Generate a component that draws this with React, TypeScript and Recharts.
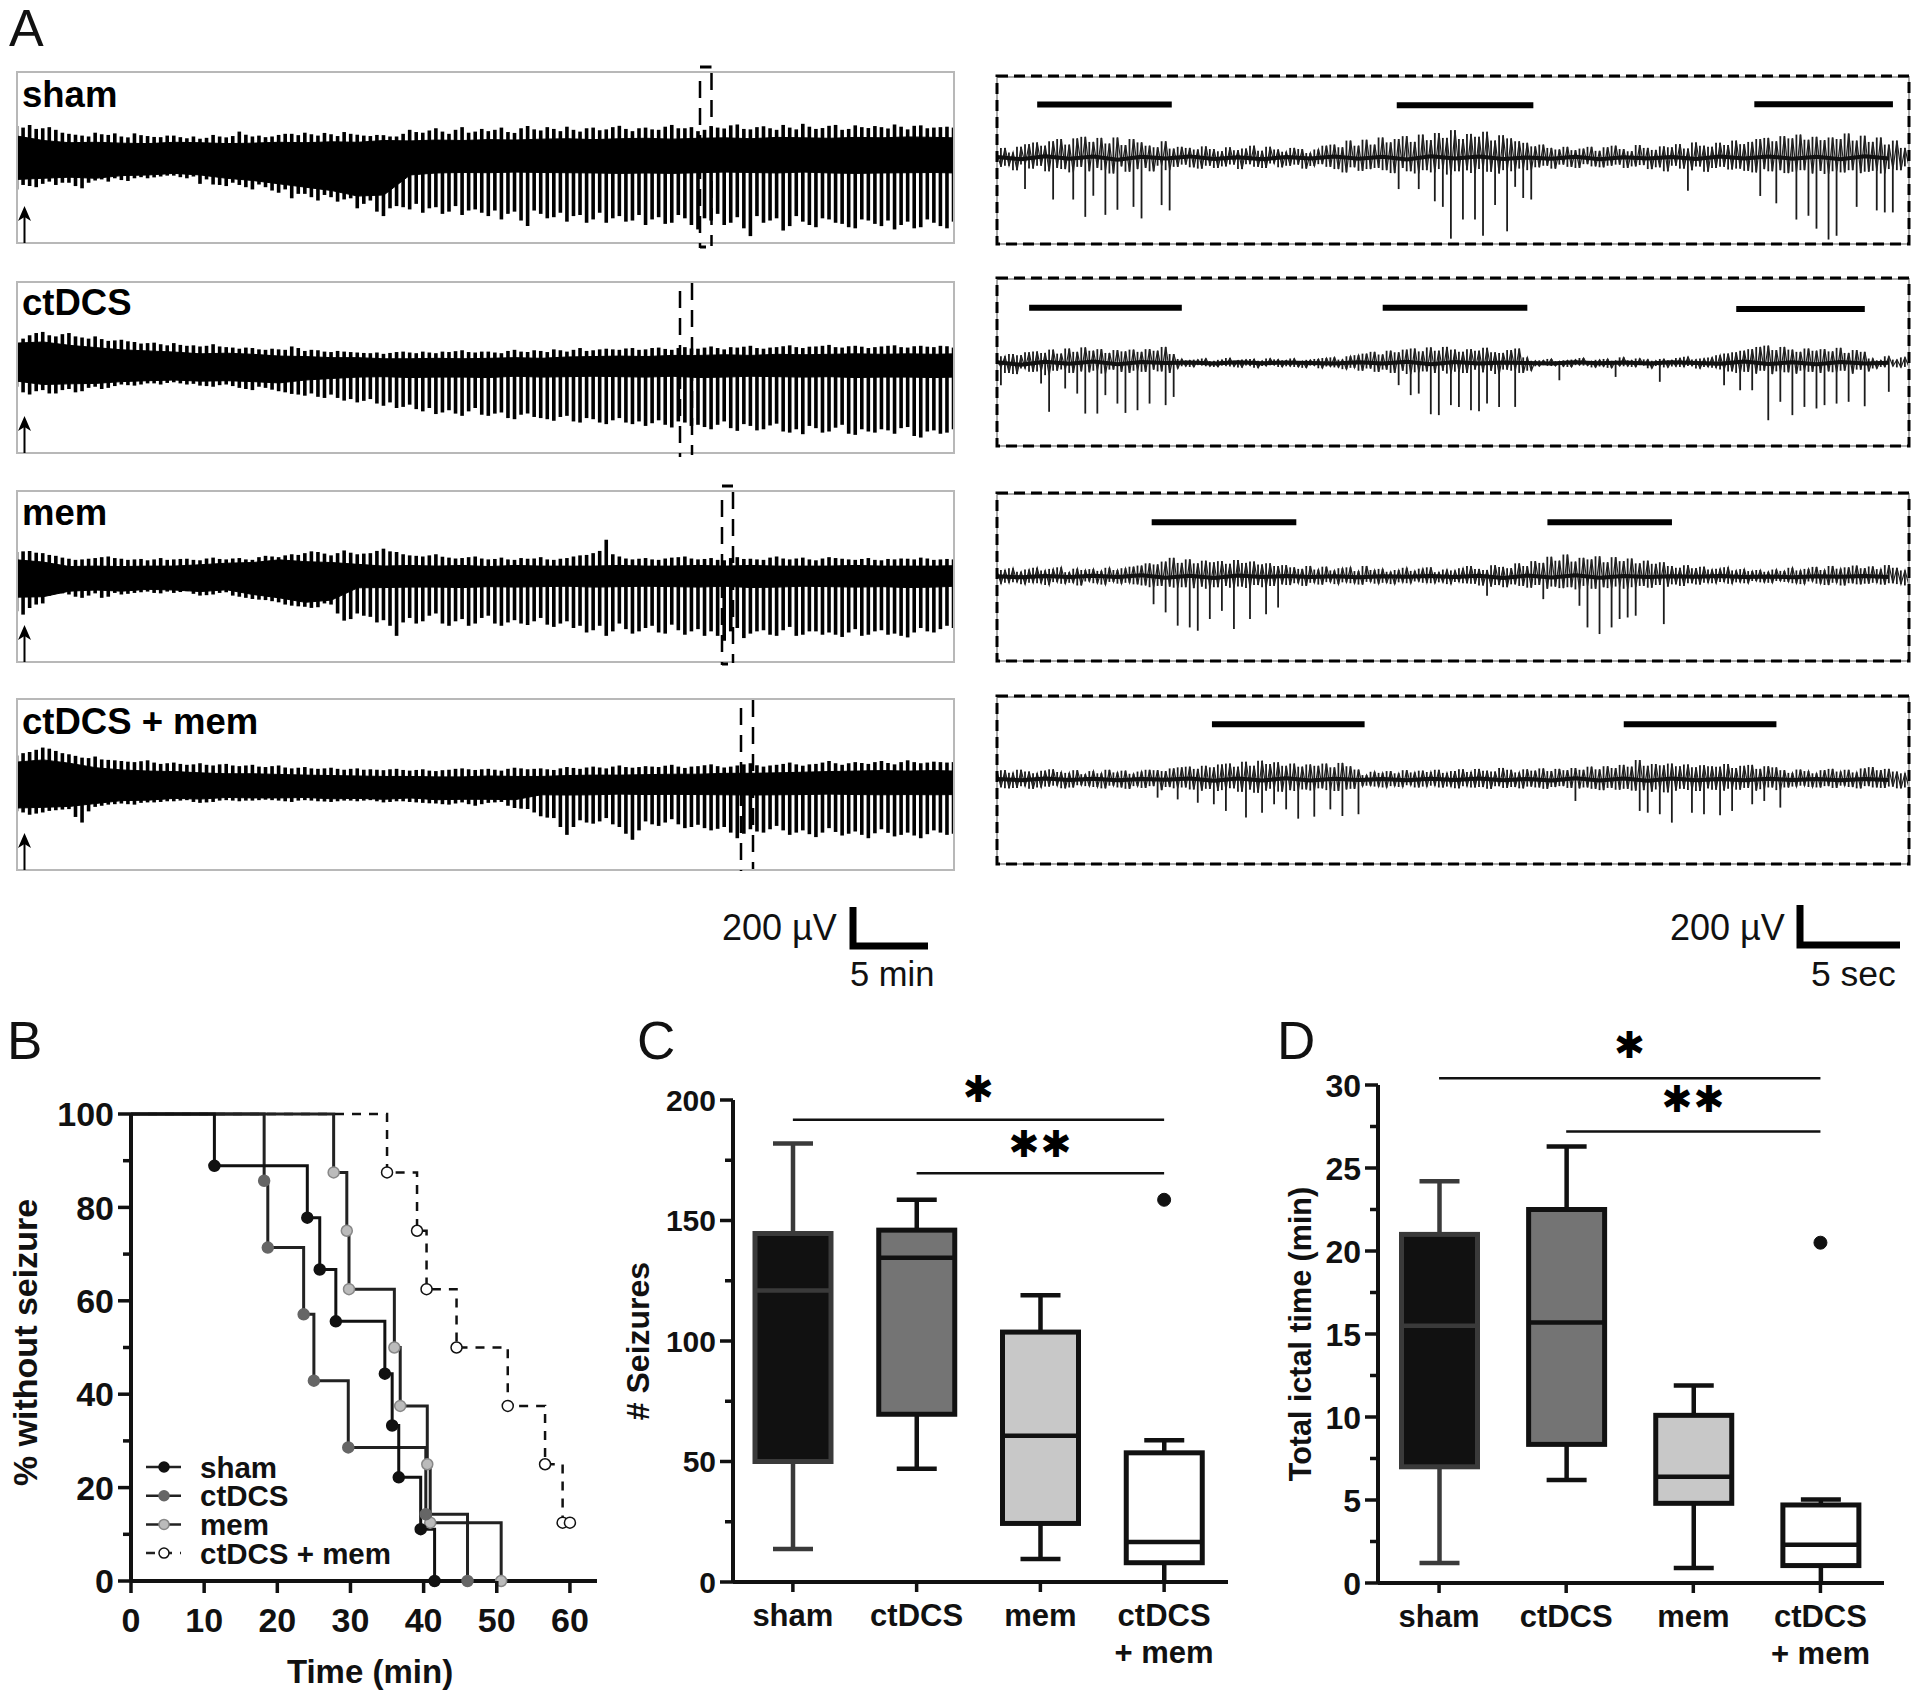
import React from 'react';
import { ComposedChart, LineChart, Line, Area, Bar, XAxis, YAxis, ReferenceLine, Legend } from 'recharts';

const FONT = '"Liberation Sans", Arial, sans-serif';

// Panel A, overview traces in microvolts. Two interleaved sets of cycles: upper tips, lower tips.
const shamTop = [135,140,125,118,100,92,105,95,88,102,90,85,92,80,78,95,84,110,88,85,95,100,105,92,98,108,96,90,94,88,118,105,125,100,130,110,112,128,104,135,115,122,132,110,128,120,136,112,128,118,140,125,112,135,124,142,120,134,118,128,145,122,136,118,138,126,130,142,120,138,128,132];
const shamTopB = [128,122,130,105,96,88,98,102,84,94,86,92,85,88,82,88,90,96,92,88,100,94,98,104,90,100,92,95,88,100,108,115,110,118,105,122,118,108,125,120,130,112,118,125,116,130,122,125,120,132,125,130,118,128,138,122,130,125,140,120,132,126,140,122,130,135,124,132,136,125,130,128];
const shamCore = [-105,-110,-100,-105,-95,-92,-100,-90,-88,-82,-85,-80,-78,-82,-85,-95,-100,-105,-110,-118,-125,-130,-140,-148,-155,-165,-180,-190,-175,-120,-85,-78,-76,-75,-74,-76,-75,-78,-72,-76,-74,-78,-75,-72,-76,-74,-78,-75,-76,-72,-78,-74,-75,-76,-72,-78,-74,-75,-76,-78,-72,-74,-76,-75,-78,-72,-76,-74,-75,-78,-74,-76];
const shamCoreTop = [90,70,60,62,58,56,62,60,56,58,62,60,64,62,70,68,72,70,74,72,76,78,74,78,80,76,80,82,78,84,82,80,84,82,86,84,82];
const shamSpikes = [-150,-135,-125,-130,-120,-145,-110,-115,-108,-100,-100,-92,-88,-100,-125,-128,-135,-130,-150,-140,-165,-190,-170,-200,-185,-195,-235,-200,-270,-225,-240,-255,-230,-250,-265,-240,-270,-285,-250,-315,-260,-275,-295,-265,-285,-300,-270,-290,-310,-275,-300,-280,-330,-290,-310,-275,-360,-300,-280,-315,-295,-320,-285,-305,-325,-290,-315,-330,-295,-320,-300,-325];
const shamSpikesB = [-130,-140,-115,-120,-135,-120,-105,-100,-112,-95,-96,-88,-95,-92,-105,-130,-120,-140,-128,-155,-150,-170,-185,-175,-205,-190,-215,-250,-235,-230,-215,-235,-260,-225,-245,-255,-245,-260,-290,-245,-280,-255,-270,-300,-255,-280,-295,-265,-285,-305,-265,-310,-280,-260,-300,-325,-270,-290,-335,-270,-310,-280,-300,-320,-285,-305,-290,-310,-325,-285,-315,-295];

const ctdcsTop = [90,135,150,130,145,125,130,110,115,105,100,95,100,88,85,95,82,75,78,70,72,85,65,68,60,62,58,55,52,60,58,62,55,60,68,58,62,55,70,60,65,72,62,78,68,75,70,78,72,80,70,82,75,85,72,80,88,75,82,90,78,85,92,80,88,78,85,90,80,88,82,86];
const ctdcsTopB = [120,145,135,140,130,120,118,112,108,98,102,90,92,90,88,85,80,80,72,75,70,78,70,62,65,60,56,58,56,62,55,58,62,64,60,62,58,65,62,68,60,68,70,65,72,72,76,70,78,74,78,76,80,78,82,84,78,80,86,82,84,88,82,86,84,82,88,82,86,84,88,80];
const ctdcsCore = [-70,-82,-85,-88,-82,-85,-80,-78,-72,-70,-68,-66,-65,-68,-70,-72,-68,-70,-72,-75,-78,-72,-65,-60,-58,-55,-52,-52,-50,-52,-54,-50,-52,-48,-52,-50,-54,-52,-48,-50,-52,-54,-50,-52,-48,-52,-50,-54,-52,-50,-48,-52,-54,-50,-52,-50,-48,-52,-50,-54,-52,-48,-50,-52,-54,-50,-52,-48,-52,-50,-54,-52];
const ctdcsCoreTop = [100,105,90,80,70,65,60,52,55,50,42,40,35,35,30,30,32,30,32,35,32,38,40,42,40,45,45,48,45,50,48,50,52,50,52,50,52];
const ctdcsSpikes = [-95,-130,-110,-125,-105,-115,-95,-100,-85,-90,-80,-85,-75,-85,-90,-95,-85,-100,-110,-100,-115,-127,-135,-140,-130,-157,-165,-150,-180,-190,-175,-205,-217,-200,-225,-190,-225,-210,-240,-215,-235,-247,-225,-255,-240,-262,-235,-262,-270,-245,-277,-255,-265,-285,-250,-292,-270,-285,-260,-300,-307,-280,-295,-265,-310,-295,-285,-305,-275,-322,-290,-300];
const ctdcsSpikesB = [-120,-115,-125,-110,-120,-100,-105,-92,-88,-85,-80,-78,-80,-82,-92,-88,-92,-105,-95,-108,-120,-130,-125,-145,-145,-150,-158,-170,-165,-185,-195,-190,-210,-215,-205,-220,-215,-235,-220,-230,-240,-230,-250,-235,-255,-245,-255,-250,-258,-265,-250,-270,-275,-265,-280,-262,-290,-268,-295,-285,-270,-300,-278,-305,-285,-300,-290,-280,-315,-295,-305,-285];

const memTop = [105,110,100,88,75,72,78,85,75,72,68,78,72,75,68,80,72,78,70,88,82,95,100,105,90,112,95,100,120,105,90,85,95,80,78,85,72,80,70,75,82,70,78,90,100,160,85,72,78,70,80,85,72,78,68,82,75,70,85,72,80,68,82,75,70,78,68,72,75,80,70,74];
const memTopB = [108,102,92,80,70,75,82,78,70,74,72,70,74,70,76,74,76,72,82,85,90,92,108,98,100,102,98,110,108,95,88,90,84,76,82,76,74,72,78,76,72,75,85,92,110,95,76,75,72,76,82,76,74,70,78,74,72,80,76,76,72,76,78,72,74,70,74,76,72,76,72,72];
const memCore = [-97,-100,-95,-62,-70,-72,-65,-85,-70,-65,-62,-68,-65,-62,-72,-68,-64,-78,-85,-90,-100,-112,-120,-128,-110,-60,-55,-52,-54,-50,-52,-48,-52,-50,-54,-52,-50,-48,-52,-54,-50,-52,-48,-50,-52,-54,-50,-52,-48,-52,-50,-54,-52,-50,-48,-52,-54,-50,-52,-50,-48,-52,-50,-54,-52,-48,-50,-52,-54,-50,-52,-48];
const memCoreTop = [70,60,40,42,40,42,42,48,55,58,70,62,58,50,42,45,42,45,40,45,42,42,42,45,42,42,45,42,45,42,42,42,45,42,42,42,44];
const memSpikes = [-160,-145,-125,-70,-85,-100,-80,-95,-85,-78,-72,-80,-78,-70,-90,-85,-75,-95,-105,-110,-120,-135,-140,-142,-130,-202,-170,-185,-200,-270,-190,-205,-170,-225,-195,-215,-180,-225,-200,-222,-190,-230,-205,-225,-245,-270,-215,-260,-235,-255,-220,-265,-240,-250,-292,-235,-260,-245,-270,-230,-265,-250,-255,-275,-240,-265,-245,-260,-277,-235,-255,-225];
const memSpikesB = [-175,-130,-90,-80,-95,-90,-100,-78,-82,-75,-78,-72,-74,-82,-88,-78,-90,-100,-108,-115,-130,-138,-145,-125,-170,-195,-180,-210,-225,-210,-215,-180,-215,-205,-225,-190,-215,-210,-215,-205,-220,-215,-235,-255,-225,-250,-240,-250,-225,-260,-245,-250,-270,-270,-250,-280,-250,-265,-245,-270,-250,-265,-265,-255,-270,-250,-265,-270,-255,-250,-240,-235];

const comboTop = [130,145,165,150,135,120,125,110,105,100,108,92,98,88,95,85,92,82,88,78,85,72,78,70,75,66,72,68,64,70,62,68,60,66,72,65,70,62,75,68,72,65,78,70,80,72,85,75,82,78,88,74,82,90,76,85,95,80,88,98,84,92,105,88,100,92,105,90,108,95,102,98];
const comboTopB = [140,155,160,140,128,118,112,108,102,104,98,95,92,90,88,90,85,85,80,82,76,75,72,72,70,70,66,66,68,65,65,62,64,70,68,68,66,70,72,70,68,72,74,76,76,80,78,78,80,84,80,80,86,82,80,90,86,85,92,90,90,98,95,95,96,100,96,100,100,98,100,100];
const comboCore = [-105,-110,-102,-100,-98,-92,-85,-75,-72,-68,-70,-65,-62,-60,-65,-60,-58,-62,-60,-56,-60,-62,-58,-60,-64,-60,-62,-58,-66,-62,-60,-65,-68,-62,-66,-70,-66,-62,-68,-64,-46,-45,-47,-44,-46,-45,-43,-46,-45,-47,-44,-46,-45,-43,-46,-44,-47,-45,-46,-44,-45,-47,-43,-46,-45,-44,-46,-47,-45,-44,-46,-45];
const comboCoreTop = [100,110,95,75,65,60,58,52,48,48,45,42,40,38,36,36,34,34,38,36,36,40,42,42,44,46,46,50,50,52,55,58,60,62,60,62,60];
const comboSpikes = [-120,-135,-125,-115,-110,-170,-100,-90,-85,-90,-80,-78,-75,-70,-82,-78,-70,-75,-72,-68,-72,-78,-70,-75,-78,-72,-75,-70,-80,-75,-78,-82,-85,-90,-80,-95,-82,-78,-105,-110,-142,-150,-225,-160,-175,-150,-190,-247,-165,-185,-155,-195,-180,-205,-190,-240,-200,-215,-185,-225,-205,-235,-195,-228,-210,-240,-200,-232,-215,-240,-205,-225];
const comboSpikesB = [-125,-130,-118,-112,-145,-120,-95,-88,-88,-82,-80,-75,-72,-78,-80,-72,-72,-72,-70,-70,-75,-72,-72,-76,-75,-72,-72,-75,-78,-75,-80,-84,-88,-85,-88,-88,-80,-95,-108,-125,-148,-190,-190,-170,-165,-178,-220,-205,-178,-170,-178,-190,-195,-198,-215,-220,-210,-200,-205,-215,-222,-215,-212,-220,-225,-218,-216,-225,-228,-222,-215,-220];

// Panel A, expanded traces: background activity, slow centre line, then the deep spikes (sample index, depth)
const shamNoise = [20,-40,45,-35,25,-55,50,-30,62,-48,70,-35,55,-60,75,-45,85,-50,60,-65,88,-40,95,-60,72,-45,90,-55,65,-70,92,-38,58,-62,85,-50,70,-45,55,-60,48,-35,75,-55,42,-40,50,-30,45,-42,38,-48,52,-35,40,-45,30,-38,48,-30,35,-50,42,-28,55,-40,32,-45,50,-25,38,-42,28,-35,45,-30,40,-48,22,-36,38,-28,55,-40,60,-50,48,-65,78,-42,55,-58,82,-50,60,-45,92,-55,70,-68,85,-45,98,-60,72,-70,105,-55,80,-65,112,-50,90,-75,125,-60,85,-55,108,-68,95,-50,118,-62,78,-70,102,-55,88,-60,75,-48,68,-55,52,-42,60,-35,45,-48,38,-30,50,-40,35,-45,42,-28,50,-38,32,-42,48,-35,55,-30,40,-45,30,-38,58,-32,45,-50,36,-42,52,-60,48,-35,62,-48,42,-55,70,-38,55,-62,50,-45,68,-40,58,-52,78,-48,62,-58,72,-65,85,-50,90,-60,75,-55,98,-68,88,-62,105,-55,82,-70,95,-58,80,-72,92,-60,85,-65,110,-55,78,-68,100,-62,72,-58,92,-70,60,-50,78,-55,45,-38];
const shamCentre = [4,-6,8,-4,6,-8,5,-3,7,-5,3,-6,4,-2,6,-4,5,-7,8,-3,6,-5,2,-4,5,-6,3,-2,4,-5,6,-3,7,-4,5,-6,8,-2];
const shamSpikeAt = [7,14,19,22,24,27,30,34,36,41,43,100,105,109,111,113,116,119,121,124,127,129,131,133,172,190,194,199,202,204,207,209,214,219,221,223];
const shamSpikeDepth = [-140,-187,-187,-265,-170,-256,-233,-220,-272,-212,-236,-140,-140,-195,-220,-363,-277,-277,-350,-212,-330,-130,-180,-187,-147,-171,-204,-277,-260,-318,-367,-350,-220,-236,-245,-245];

const ctdcsNoise = [15,-20,30,-45,40,-50,35,-25,48,-40,52,-38,45,-55,60,-35,42,-30,65,-45,50,-38,70,-42,55,-35,62,-48,45,-30,58,-40,52,-45,60,-35,50,-40,62,-30,55,-38,72,-45,40,-25,18,-15,12,-18,15,-10,20,-15,8,-18,14,-12,22,-16,10,-20,15,-12,18,-22,10,-14,20,-10,16,-18,12,-15,20,-18,8,-22,14,-12,18,-24,22,-16,25,-20,15,-28,30,-22,35,-35,42,-25,50,-40,38,-30,55,-45,48,-35,60,-50,65,-42,52,-38,70,-45,55,-35,72,-48,60,-40,50,-45,62,-30,55,-42,68,-35,48,-50,45,-30,58,-35,65,-45,25,-35,10,-15,12,-10,18,-14,8,-16,12,-18,15,-10,22,-12,8,-20,14,-16,18,-22,10,-14,25,-15,12,-18,20,-10,16,-24,10,-14,18,-20,12,-16,22,-18,28,-14,15,-25,20,-18,25,-22,35,-30,42,-38,48,-45,55,-40,62,-48,72,-35,78,-50,58,-38,72,-42,60,-48,50,-35,65,-40,55,-45,62,-38,52,-42,68,-35,45,-48,58,-30,50,-38,20,-25,12,-18,30,-15,15,-20,25,-18];
const ctdcsCentre = [3,-8,5,-4,6,-6,4,0,2,-2,3,-1,2,0,-3,3,-2,5,-6,4,-3,2,0,-2,3,-1,2,-2,3,0,-4,6,-5,3,-6,4,-2,1];
const ctdcsSpikeAt = [1,11,13,17,20,22,25,27,30,32,35,38,42,44,100,103,105,108,110,113,115,118,120,122,125,129,140,154,165,181,185,188,192,195,198,201,204,206,209,212,216,222];
const ctdcsSpikeDepth = [-100,-93,-220,-115,-138,-228,-228,-145,-183,-225,-213,-183,-190,-153,-100,-145,-138,-231,-235,-190,-198,-213,-217,-183,-198,-198,-78,-63,-85,-100,-123,-123,-258,-175,-235,-198,-205,-190,-183,-175,-195,-130];

const memNoise = [25,-32,30,-28,38,-25,22,-35,32,-28,40,-30,28,-38,35,-25,42,-32,20,-28,36,-40,30,-22,34,-30,26,-36,40,-24,30,-32,38,-28,45,-35,50,-40,60,-48,55,-42,68,-45,85,-50,62,-48,78,-52,60,-45,72,-55,65,-48,70,-42,58,-50,75,-45,62,-52,68,-38,55,-48,60,-42,48,-35,52,-38,42,-30,35,-42,48,-28,32,-36,45,-25,28,-34,38,-26,42,-30,25,-36,48,-24,30,-32,35,-28,22,-34,30,-26,40,-30,26,-22,36,-28,42,-30,20,-26,32,-34,28,-24,38,-30,48,-32,35,-40,30,-45,52,-38,44,-48,38,-35,60,-42,48,-50,70,-38,62,-55,90,-45,72,-52,100,-48,68,-58,85,-42,78,-55,92,-48,65,-52,88,-45,70,-55,82,-48,60,-42,72,-50,58,-38,65,-45,48,-35,40,-42,52,-30,38,-36,45,-28,32,-30,36,-24,42,-32,28,-26,34,-30,25,-20,30,-26,22,-28,32,-20,26,-24,40,-30,28,-34,35,-22,44,-32,30,-38,48,-28,36,-40,42,-30,50,-35,38,-32,46,-28,34,-36,52,-30,40,-34,28,-40];
const memCentre = [2,-3,3,-2,4,-2,6,-5,4,-6,5,-2,3,-2,2,-3,2,-1,3,-2,4,-6,5,-4,6,-5,3,-2,2,-1,3,-2,1,-3,2,-1,3,-2];
const memSpikeAt = [39,42,45,48,50,53,56,59,63,67,70,122,136,145,147,150,153,155,157,159,166];
const memSpikeDepth = [-125,-162,-222,-230,-245,-192,-155,-237,-192,-170,-140,-87,-102,-132,-230,-260,-230,-192,-185,-177,-215];

const comboNoise = [38,-35,42,-40,30,-38,44,-30,36,-42,28,-36,40,-32,46,-28,34,-40,30,-36,42,-26,24,-30,38,-34,28,-40,44,-28,32,-36,40,-42,26,-30,36,-38,44,-30,42,-48,38,-34,50,-40,55,-36,58,-45,48,-50,62,-42,55,-52,68,-48,72,-40,58,-55,80,-45,62,-60,85,-50,70,-42,78,-55,62,-48,72,-52,58,-45,68,-50,62,-40,72,-48,55,-52,75,-45,60,-42,45,-30,20,-28,35,-32,30,-36,38,-30,28,-34,42,-26,32,-36,40,-32,34,-28,44,-36,30,-32,38,-40,46,-30,34,-36,48,-34,40,-42,36,-30,52,-38,44,-34,32,-40,46,-32,40,-36,50,-42,38,-34,48,-30,42,-38,52,-40,44,-36,58,-42,46,-48,60,-38,52,-46,66,-42,58,-50,88,-48,62,-55,70,-45,64,-58,72,-50,60,-42,68,-48,55,-52,65,-40,60,-46,58,-50,70,-42,52,-46,62,-38,66,-50,48,-44,60,-36,55,-48,42,-36,30,-32,45,-28,38,-34,28,-36,42,-30,48,-38,36,-28,44,-34,32,-40,50,-30,56,-36,42,-38,48,-32,36,-40,28,-36];
const comboCentre = [2,-3,4,-2,3,-3,2,-1,5,-6,4,-5,6,-4,3,-2,2,-3,3,-2,4,-3,2,-4,6,-5,4,-6,5,-3,2,-3,3,-2,2,-3,2,-2];
const comboSpikeAt = [40,45,50,54,57,62,66,69,72,75,79,83,86,90,144,160,162,165,168,173,176,180,183,188,191,195];
const comboSpikeDepth = [-82,-90,-105,-112,-142,-172,-150,-112,-135,-177,-168,-135,-165,-157,-97,-142,-150,-157,-195,-150,-157,-162,-142,-112,-97,-127];

// Seizure markers over the expanded traces: [first sample, last sample, level]
const shamMarks = [[10,43.5,240],[99.5,133.5,237],[188.5,223,242]];
const ctdcsMarks = [[8,46,249],[96,132,249],[184,216,243]];
const memMarks = [[38.5,74.5,246],[137,168,246]];
const comboMarks = [[53.5,91.5,250],[156,194,250]];

// Panel B
const kmTicksY = [0,10,20,30,40,50,60,70,80,90,100];
const kmTicksX = [0,10,20,30,40,50,60];
const shamKm = [[0,100],[11.4,88.9],[24.1,77.8],[25.8,66.7],[28,55.6],[34.7,44.4],[35.7,33.3],[36.6,22.2],[39.6,11.1],[41.5,0]];
const ctdcsKm = [[0,100],[18.2,85.7],[18.7,71.4],[23.6,57.1],[25,42.9],[29.7,28.6],[40.3,14.3],[46,0]];
const memKm = [[0,100],[27.7,87.5],[29.5,75],[29.8,62.5],[36,50],[36.8,37.5],[40.5,25],[40.9,12.5],[50.6,0]];
const comboKm = [[0,100],[35,87.5],[39.1,75],[40.4,62.5],[44.5,50],[51.5,37.5],[56.6,25],[59,12.5],[60,12.5]];

// Panels C and D
const groups = ['sham','ctDCS','mem','ctDCS + mem'];
const boxFills = ['#111111','#747474','#c8c8c8','#ffffff'];
const boxStrokes = ['#3a3a3a','#111111','#111111','#111111'];
const seizureLow = [13.7,47,9.5,0];
const seizureQ1 = [50,69.6,24.3,8];
const seizureMedian = [121,134.5,60.7,16.6];
const seizureQ3 = [144.6,146,103.7,53.6];
const seizureHigh = [182,158.6,119,58.8];
const seizureOutlier = [null,null,null,158.6];
const seizureTicks = [0,25,50,75,100,125,150,175,200];
const ictalLow = [1.2,6.2,0.9,0];
const ictalQ1 = [7,8.35,4.8,1.05];
const ictalMedian = [15.5,15.7,6.4,2.3];
const ictalQ3 = [21,22.5,10.1,4.7];
const ictalHigh = [24.2,26.3,11.9,5.03];
const ictalOutlier = [null,null,null,20.5];
const ictalTicks = [0,2.5,5,7.5,10,12.5,15,17.5,20,22.5,25,27.5,30];

const toBoxRows = (low: number[], q1: number[], med: number[], q3: number[], high: number[], out: (number | null)[]) =>
  groups.map((name, i) => ({ name, range: [low[i], high[i]], low: low[i], q1: q1[i], med: med[i], q3: q3[i], high: high[i], outlier: out[i] }));

const OverviewTrace = ({ left, top, domain, tips, tipsB, core, coreTop, spikes, spikesB }: any) => {
  const rows: any[] = [];
  tips.forEach((t: number, k: number) => {
    const solid = k % 2 === 0 ? coreTop[k / 2] : undefined;
    rows.push({ i: k * 2, cycle: [spikes[k], t], band: solid !== undefined ? [core[k], solid] : null });
    rows.push({ i: k * 2 + 1, cycle: [spikesB[k], tipsB[k]], band: null });
  });
  // close the solid band at the right edge of the box
  rows[rows.length - 1].band = [core[core.length - 1], coreTop[coreTop.length - 1]];
  return (
    <div style={{ position: 'absolute', left, top }}>
      <ComposedChart width={937} height={171} data={rows} margin={{ top: 0, right: 0, bottom: 0, left: 0 }}>
        <XAxis dataKey="i" type="number" domain={[0, 143]} hide />
        <YAxis type="number" domain={domain} hide allowDataOverflow />
        <Area dataKey="band" type="linear" connectNulls stroke="#000" strokeWidth={1} fill="#000" fillOpacity={1} dot={false} activeDot={false} isAnimationActive={false} />
        <Bar dataKey="cycle" barSize={3.6} fill="#000" isAnimationActive={false} />
      </ComposedChart>
    </div>
  );
};

const DetailTrace = ({ left, top, domain, noise, centre, at, depth, marks }: any) => {
  const rows = noise.map((v: number, i: number) => {
    const next = i + 1 < noise.length ? noise[i + 1] : 0;
    const k = at.indexOf(i);
    const low = k >= 0 ? depth[k] : Math.min(v, next);
    return { i, v, stroke: [low, Math.max(v, next)], mid: i % 6 === 0 ? centre[i / 6] : null };
  });
  return (
    <div style={{ position: 'absolute', left, top }}>
      <ComposedChart width={912} height={167} data={rows} margin={{ top: 0, right: 0, bottom: 0, left: 0 }}>
        <XAxis dataKey="i" type="number" domain={[0, noise.length - 1]} hide />
        <YAxis type="number" domain={domain} hide allowDataOverflow />
        <Bar dataKey="stroke" barSize={1.8} fill="#1c1c1c" isAnimationActive={false} />
        <Line dataKey="v" type="linear" stroke="#222" strokeWidth={1.2} dot={false} activeDot={false} isAnimationActive={false} />
        <Line dataKey="mid" type="linear" connectNulls stroke="#111" strokeWidth={4} dot={false} activeDot={false} isAnimationActive={false} />
        {marks.map((m: number[], k: number) => (
          <ReferenceLine key={k} segment={[{ x: m[0], y: m[2] }, { x: m[1], y: m[2] }]} stroke="#000" strokeWidth={6} />
        ))}
      </ComposedChart>
    </div>
  );
};

const YTick = ({ x, y, payload, labelled, fontSize }: any) => {
  const major = labelled.includes(payload.value);
  return (
    <g>
      <line x1={x} x2={x - (major ? 13 : 8)} y1={y} y2={y} stroke="#111" strokeWidth={3.5} />
      {major && (
        <text x={x - 17} y={y} dy="0.36em" textAnchor="end" fontSize={fontSize} fontWeight="bold" fontFamily={FONT} fill="#111">
          {payload.value}
        </text>
      )}
    </g>
  );
};

const KmXTick = ({ x, y, payload }: any) => (
  <g>
    <line x1={x} x2={x} y1={y} y2={y + 12} stroke="#111" strokeWidth={3.5} />
    <text x={x} y={y + 51} textAnchor="middle" fontSize={34} fontWeight="bold" fontFamily={FONT} fill="#111">
      {payload.value}
    </text>
  </g>
);

const GroupTick = ({ x, y, payload }: any) => {
  const lines = payload.value.includes(' + ') ? ['ctDCS', '+ mem'] : [payload.value];
  return (
    <g>
      <line x1={x} x2={x} y1={y} y2={y + 10} stroke="#111" strokeWidth={3.5} />
      {lines.map((t: string, i: number) => (
        <text key={t} x={x} y={y + 44 + i * 37} textAnchor="middle" fontSize={31} fontWeight="bold" fontFamily={FONT} fill="#111">
          {t}
        </text>
      ))}
    </g>
  );
};

const BoxShape = ({ x, y, width, height, payload, index }: any) => {
  const k = height / (payload.high - payload.low);
  const py = (v: number) => y + (payload.high - v) * k;
  const cx = x + width / 2;
  const stroke = boxStrokes[index];
  return (
    <g>
      <line x1={cx} x2={cx} y1={py(payload.high)} y2={py(payload.low)} stroke={stroke} strokeWidth={4.5} />
      <line x1={cx - 20} x2={cx + 20} y1={py(payload.high)} y2={py(payload.high)} stroke={stroke} strokeWidth={4.5} />
      {payload.low > 0 && <line x1={cx - 20} x2={cx + 20} y1={py(payload.low)} y2={py(payload.low)} stroke={stroke} strokeWidth={4.5} />}
      <rect x={x} y={py(payload.q3)} width={width} height={py(payload.q1) - py(payload.q3)} fill={boxFills[index]} stroke={stroke} strokeWidth={5} />
      <line x1={x} x2={x + width} y1={py(payload.med)} y2={py(payload.med)} stroke={stroke} strokeWidth={4.5} />
    </g>
  );
};

const kmLegendRows = [
  { name: 'sham', fill: '#111', stroke: '#111', dash: undefined },
  { name: 'ctDCS', fill: '#666', stroke: '#666', dash: undefined },
  { name: 'mem', fill: '#bbb', stroke: '#888', dash: undefined },
  { name: 'ctDCS + mem', fill: '#fff', stroke: '#111', dash: '9 8' },
];

const KmLegend = () => (
  <svg width={260} height={130} style={{ display: 'block' }}>
    {kmLegendRows.map((r, i) => (
      <g key={r.name} transform={`translate(0,${20 + i * 28.7})`}>
        <line x1={0} x2={35} y1={0} y2={0} stroke="#222" strokeWidth={2.5} strokeDasharray={r.dash} />
        <circle cx={18} cy={0} r={5} fill={r.fill} stroke={r.stroke} strokeWidth={1.5} />
        <text x={54} y={0} dy="0.36em" fontSize={29.5} fontWeight="bold" fontFamily={FONT} fill="#111">
          {r.name}
        </text>
      </g>
    ))}
  </svg>
);

const kmDot = (fill: string, stroke: string) => (props: any) => {
  if (props.index === 0) return <g key="start" />;
  return <circle key={props.index} cx={props.cx} cy={props.cy} r={5.5} fill={fill} stroke={stroke} strokeWidth={1.5} />;
};

const toKmRows = (pts: number[][]) => pts.map(([x, y]) => ({ x, y }));

const KmChart = () => (
  <div style={{ position: 'absolute', left: 0, top: 1040 }}>
    <LineChart width={597} height={658} margin={{ top: 74, right: 0, bottom: 0, left: 0 }}>
      <XAxis
        dataKey="x"
        type="number"
        domain={[0, 63.7]}
        ticks={kmTicksX}
        interval={0}
        height={117}
        tickSize={0}
        tickMargin={0}
        axisLine={{ stroke: '#111', strokeWidth: 4 }}
        tick={<KmXTick />}
        label={{ value: 'Time (min)', position: 'insideBottom', offset: 15, dx: 6, style: { fontSize: 33, fontWeight: 'bold', fontFamily: FONT, fill: '#111' } }}
      />
      <YAxis
        type="number"
        domain={[0, 100]}
        ticks={kmTicksY}
        interval={0}
        width={131}
        tickSize={0}
        tickMargin={0}
        axisLine={{ stroke: '#111', strokeWidth: 4 }}
        tick={<YTick labelled={[0, 20, 40, 60, 80, 100]} fontSize={34} />}
        label={{ value: '% without seizure', angle: -90, position: 'insideLeft', offset: 25, dy: -5, style: { textAnchor: 'middle', fontSize: 34, fontWeight: 'bold', fontFamily: FONT, fill: '#111' } }}
      />
      <Legend content={KmLegend} layout="vertical" align="center" verticalAlign="middle" wrapperStyle={{ left: 146, top: 407, width: 260 }} />
      <Line data={toKmRows(comboKm)} dataKey="y" name="ctDCS + mem" type="stepAfter" stroke="#111" strokeWidth={2.5} strokeDasharray="9 8" dot={kmDot('#fff', '#111')} activeDot={false} isAnimationActive={false} />
      <Line data={toKmRows(memKm)} dataKey="y" name="mem" type="stepAfter" stroke="#222" strokeWidth={3} dot={kmDot('#bbb', '#888')} activeDot={false} isAnimationActive={false} />
      <Line data={toKmRows(ctdcsKm)} dataKey="y" name="ctDCS" type="stepAfter" stroke="#222" strokeWidth={3} dot={kmDot('#666', '#666')} activeDot={false} isAnimationActive={false} />
      <Line data={toKmRows(shamKm)} dataKey="y" name="sham" type="stepAfter" stroke="#111" strokeWidth={3} dot={kmDot('#111', '#111')} activeDot={false} isAnimationActive={false} />
    </LineChart>
  </div>
);

const starStyle = { fontSize: 37, fontFamily: '"DejaVu Sans"', fill: '#000', letterSpacing: 1 };

const BoxChart = ({ left, top, width, height, marginTop, rows, max, ticks, labelled, fontSize, yLabel, labelStyle, padding, sig }: any) => (
  <div style={{ position: 'absolute', left, top }}>
    <ComposedChart width={width} height={height} data={rows} margin={{ top: marginTop, right: 0, bottom: 0, left: 0 }}>
      <XAxis dataKey="name" height={100} padding={padding} interval={0} tickSize={0} tickMargin={0} axisLine={{ stroke: '#111', strokeWidth: 4 }} tick={<GroupTick />} />
      <YAxis
        type="number"
        domain={[0, max]}
        ticks={ticks}
        interval={0}
        width={140}
        tickSize={0}
        tickMargin={0}
        axisLine={{ stroke: '#111', strokeWidth: 4 }}
        tick={<YTick labelled={labelled} fontSize={fontSize} />}
        label={{ value: yLabel, angle: -90, position: 'insideLeft', ...labelStyle }}
      />
      <Bar dataKey="range" barSize={76} shape={BoxShape} isAnimationActive={false} />
      <Line dataKey="outlier" stroke="none" dot={{ r: 6.5, fill: '#111', stroke: '#111' }} activeDot={false} isAnimationActive={false} />
      {sig.map((s: any, i: number) => (
        <ReferenceLine
          key={i}
          ifOverflow="visible"
          segment={[{ x: s.from, y: s.level }, { x: 'ctDCS + mem', y: s.level }]}
          stroke="#111"
          strokeWidth={2.5}
          label={{ value: s.mark, position: 'top', offset: s.offset, style: starStyle }}
        />
      ))}
    </ComposedChart>
  </div>
);

const detailBoxes = [[997, 77], [997, 279], [997, 494], [997, 697]];
const overviewBoxes = [[17, 72], [17, 282], [17, 491], [17, 699]];
const traceNames = ['sham', 'ctDCS', 'mem', 'ctDCS + mem'];
const baselines = [107, 315, 525, 734];
const windowMarks = [[700, 711.5, 67, 248], [680, 692, 277, 457], [722, 733, 486, 665], [741, 753, 694, 871]];

const Annotations = () => (
  <svg width={1920} height={1698} style={{ position: 'absolute', left: 0, top: 0, pointerEvents: 'none' }} fontFamily={FONT}>
    {overviewBoxes.map(([x, y], i) => (
      <g key={i}>
        <rect x={x} y={y} width={937} height={171} fill="none" stroke="#b8b8b8" strokeWidth={2} />
        <text x={22} y={baselines[i]} fontSize={36.5} fontWeight="bold" fill="#000">{traceNames[i]}</text>
        <line x1={24.5} x2={24.5} y1={y + 171} y2={y + 140} stroke="#000" strokeWidth={2} />
        <path d={`M24.5 ${y + 134} L31 ${y + 149} L24.5 ${y + 145} L18 ${y + 149} Z`} fill="#000" />
      </g>
    ))}
    {detailBoxes.map(([x, y], i) => (
      <g key={i}>
        <rect x={x} y={y} width={912} height={167} fill="none" stroke="#aaa" strokeWidth={2} />
        <rect x={x} y={y - 1} width={912} height={168} fill="none" stroke="#000" strokeWidth={3} strokeDasharray="11 6" />
      </g>
    ))}
    {windowMarks.map(([a, b, y1, y2], i) => (
      <g key={i} stroke="#000" strokeWidth={2.5}>
        <line x1={a} x2={a} y1={y1 + 14} y2={y2} strokeDasharray="17 10" />
        <line x1={b} x2={b} y1={y1 + 6} y2={y2 - 2} strokeDasharray="17 10" />
        {i % 2 === 0 && <line x1={a} x2={b} y1={y1} y2={y1} strokeWidth={3} />}
        {i % 2 === 0 && <line x1={a} x2={a + 6} y1={y2 - 1} y2={y2 - 1} strokeWidth={3} />}
      </g>
    ))}
    <text x={9} y={46} fontSize={52} fill="#111">A</text>
    <text x={7} y={1059} fontSize={53} fill="#111">B</text>
    <text x={637} y={1059} fontSize={53} fill="#111">C</text>
    <text x={1277} y={1059} fontSize={53} fill="#111">D</text>
    <path d="M853 907 V946 H928" fill="none" stroke="#000" strokeWidth={7} />
    <path d="M1800 905 V945 H1900" fill="none" stroke="#000" strokeWidth={7} />
    <text x={722} y={940} fontSize={36} fill="#111">200 µV</text>
    <text x={1670} y={940} fontSize={36} fill="#111">200 µV</text>
    <text x={850} y={986} fontSize={34.5} fill="#111">5 min</text>
    <text x={1811} y={986} fontSize={35.5} fill="#111">5 sec</text>
  </svg>
);

const App = () => (
  <div style={{ position: 'absolute', left: 0, top: 0, width: 1920, height: 1698, background: '#fff', overflow: 'hidden' }}>
    <OverviewTrace left={17} top={72} domain={[-391, 378]} tips={shamTop} tipsB={shamTopB} core={shamCore} coreTop={shamCoreTop} spikes={shamSpikes} spikesB={shamSpikesB} />
    <OverviewTrace left={17} top={282} domain={[-391, 373]} tips={ctdcsTop} tipsB={ctdcsTopB} core={ctdcsCore} coreTop={ctdcsCoreTop} spikes={ctdcsSpikes} spikesB={ctdcsSpikesB} />
    <OverviewTrace left={17} top={491} domain={[-387, 378]} tips={memTop} tipsB={memTopB} core={memCore} coreTop={memCoreTop} spikes={memSpikes} spikesB={memSpikesB} />
    <OverviewTrace left={17} top={699} domain={[-382, 382]} tips={comboTop} tipsB={comboTopB} core={comboCore} coreTop={comboCoreTop} spikes={comboSpikes} spikesB={comboSpikesB} />
    <DetailTrace left={997} top={77} domain={[-387, 364]} noise={shamNoise} centre={shamCentre} at={shamSpikeAt} depth={shamSpikeDepth} marks={shamMarks} />
    <DetailTrace left={997} top={279} domain={[-374, 378]} noise={ctdcsNoise} centre={ctdcsCentre} at={ctdcsSpikeAt} depth={ctdcsSpikeDepth} marks={ctdcsMarks} />
    <DetailTrace left={997} top={494} domain={[-382, 374]} noise={memNoise} centre={memCentre} at={memSpikeAt} depth={memSpikeDepth} marks={memMarks} />
    <DetailTrace left={997} top={697} domain={[-382, 373]} noise={comboNoise} centre={comboCentre} at={comboSpikeAt} depth={comboSpikeDepth} marks={comboMarks} />
    <KmChart />
    <BoxChart
      left={593}
      top={1020}
      width={635}
      height={662}
      marginTop={80}
      rows={toBoxRows(seizureLow, seizureQ1, seizureMedian, seizureQ3, seizureHigh, seizureOutlier)}
      max={200}
      ticks={seizureTicks}
      labelled={[0, 50, 100, 150, 200]}
      fontSize={30}
      yLabel="# Seizures"
      labelStyle={{ offset: 45, dy: 0, style: { textAnchor: 'middle', fontSize: 32, fontWeight: 'bold', fontFamily: FONT, fill: '#111' } }}
      padding={{ left: -2, right: 2 }}
      sig={[{ from: 'sham', level: 191.8, mark: '✱', offset: 18 }, { from: 'ctDCS', level: 169.6, mark: '✱✱', offset: 16 }]}
    />
    <BoxChart
      left={1238}
      top={1020}
      width={646}
      height={663}
      marginTop={65}
      rows={toBoxRows(ictalLow, ictalQ1, ictalMedian, ictalQ3, ictalHigh, ictalOutlier)}
      max={30}
      ticks={ictalTicks}
      labelled={[0, 5, 10, 15, 20, 25, 30]}
      fontSize={32}
      yLabel="Total ictal time (min)"
      labelStyle={{ offset: 62, dy: 0, style: { textAnchor: 'middle', fontSize: 30.5, fontWeight: 'bold', fontFamily: FONT, fill: '#111' } }}
      padding={{ left: -2.5, right: 0 }}
      sig={[{ from: 'sham', level: 30.4, mark: '✱', offset: 20 }, { from: 'ctDCS', level: 27.2, mark: '✱✱', offset: 19 }]}
    />
    <Annotations />
  </div>
);

export default App;
